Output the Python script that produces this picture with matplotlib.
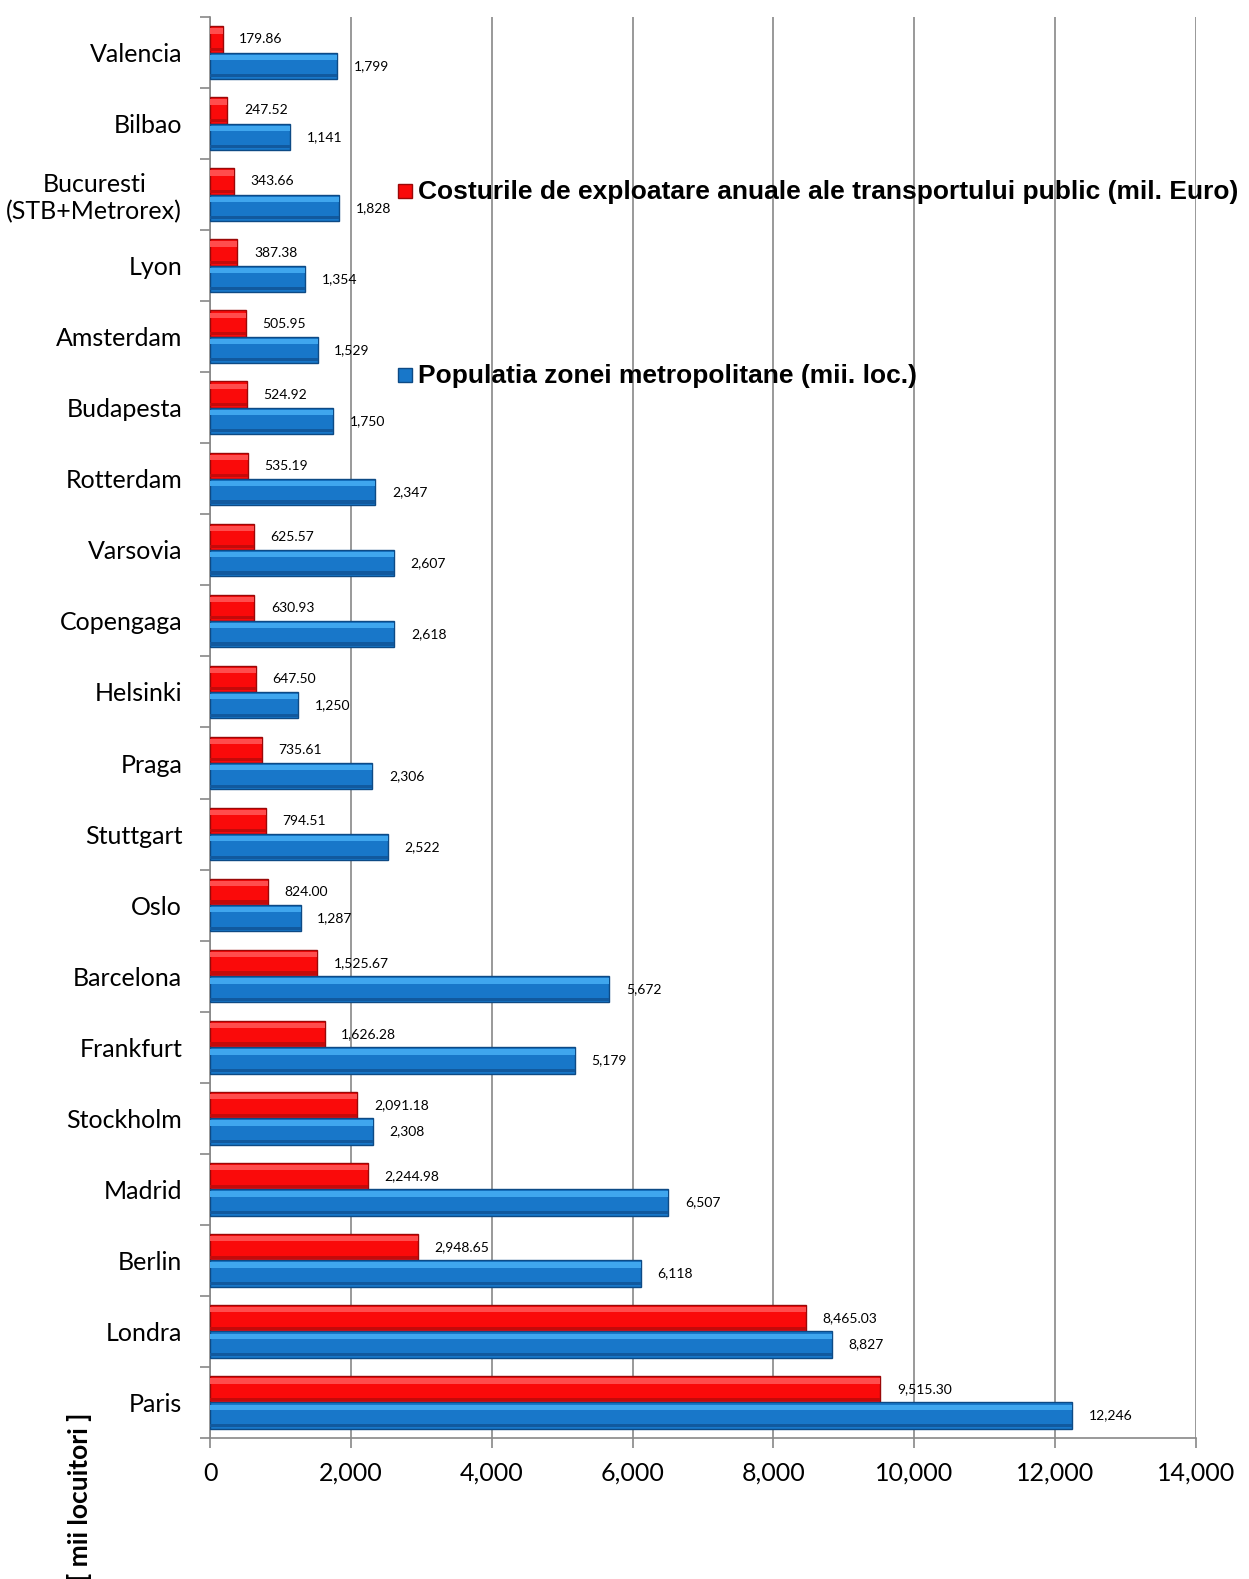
import matplotlib.pyplot as plt
from matplotlib.patches import Rectangle
from matplotlib.ticker import FuncFormatter, FixedLocator

cities = ['Valencia', 'Bilbao', 'Bucuresti\n(STB+Metrorex)', 'Lyon', 'Amsterdam', 'Budapesta',
          'Rotterdam', 'Varsovia', 'Copengaga', 'Helsinki', 'Praga', 'Stuttgart', 'Oslo',
          'Barcelona', 'Frankfurt', 'Stockholm', 'Madrid', 'Berlin', 'Londra', 'Paris']
costs = [179.86, 247.52, 343.66, 387.38, 505.95, 524.92, 535.19, 625.57, 630.93, 647.50,
         735.61, 794.51, 824.00, 1525.67, 1626.28, 2091.18, 2244.98, 2948.65, 8465.03, 9515.30]
population = [1799, 1141, 1828, 1354, 1529, 1750, 2347, 2607, 2618, 1250,
              2306, 2522, 1287, 5672, 5179, 2308, 6507, 6118, 8827, 12246]
cost_label = 'Costurile de exploatare anuale ale transportului public (mil. Euro)'
pop_label = 'Populatia zonei metropolitane (mii. loc.)'

W, H = 1249, 1579
fig = plt.figure(figsize=(W/100, H/100), dpi=100)
ax = fig.add_axes([210/W, 1 - 1438/H, (1196-210)/W, (1438-17)/H])

h = 0.37
y = list(range(len(cities)))
y_red = [v - h/2 for v in y]
y_blue = [v + h/2 for v in y]

# bars with a simple bevel look
def bevel_bars(ys, vals, main, light, dark, edge):
    ax.barh(ys, vals, height=h, color=main, edgecolor=edge, linewidth=1, zorder=3)
    ax.barh([v - h*0.32 for v in ys], vals, height=h*0.2, color=light, linewidth=0, zorder=4)
    ax.barh([v + h*0.38 for v in ys], vals, height=h*0.12, color=dark, linewidth=0, zorder=4)

bevel_bars(y_red, costs, '#fa0a0a', '#ff4d4d', '#c40a0a', '#9a0808')
bevel_bars(y_blue, population, '#1877c9', '#3fa6ee', '#11599e', '#0d4a85')

for yy, v in zip(y_red, costs):
    ax.annotate(f'{v:,.2f}', (v, yy), xytext=(12, 0), textcoords='offset points',
                va='center', ha='left', fontsize=10, family='Lato')
for yy, v in zip(y_blue, population):
    ax.annotate(f'{v:,}', (v, yy), xytext=(12, 0), textcoords='offset points',
                va='center', ha='left', fontsize=10, family='Lato')

ax.set_xlim(0, 14000)
ax.set_ylim(len(cities) - 0.5, -0.5)
ax.set_xticks(range(0, 14001, 2000))
ax.xaxis.set_major_formatter(FuncFormatter(lambda x, p: f'{int(x):,}'))
ax.set_yticks(y)
ax.set_yticklabels(cities, fontsize=18, family='Lato', ha='right', multialignment='center')
ax.yaxis.set_minor_locator(FixedLocator([v - 0.5 for v in range(len(cities) + 1)]))
ax.tick_params(axis='y', which='major', length=0, pad=20)
ax.tick_params(axis='y', which='minor', length=7, color='#888888', width=1.2)
ax.tick_params(axis='x', length=7, color='#888888', width=1.2, pad=10, labelsize=18)
for lab in ax.get_xticklabels():
    lab.set_family('Lato')

ax.grid(axis='x', color='#888888', linewidth=1.2, zorder=0)
for s in ['top', 'right']:
    ax.spines[s].set_visible(False)
for s in ['left', 'bottom']:
    ax.spines[s].set_color('#888888')
    ax.spines[s].set_linewidth(1.2)

# legend
fig.patches.append(Rectangle((398/W, 1 - 198/H), 14/W, 14/H,
                             transform=fig.transFigure, facecolor='#fa0a0a',
                             edgecolor='#9a0808', figure=fig))
fig.text(418/W, 1 - 192/H, cost_label, fontsize=19, weight='bold',
         family='Liberation Sans', va='center', ha='left')
fig.patches.append(Rectangle((398/W, 1 - 382/H), 14/W, 14/H,
                             transform=fig.transFigure, facecolor='#1877c9',
                             edgecolor='#0d4a85', figure=fig))
fig.text(418/W, 1 - 376/H, pop_label, fontsize=19, weight='bold',
         family='Liberation Sans', va='center', ha='left')

fig.text(79/W, 1 - 1497/H, '[ mii locuitori ]', rotation=90, fontsize=19,
         weight='bold', family='Lato', va='center', ha='center')

fig.savefig('out.png', dpi=100)
